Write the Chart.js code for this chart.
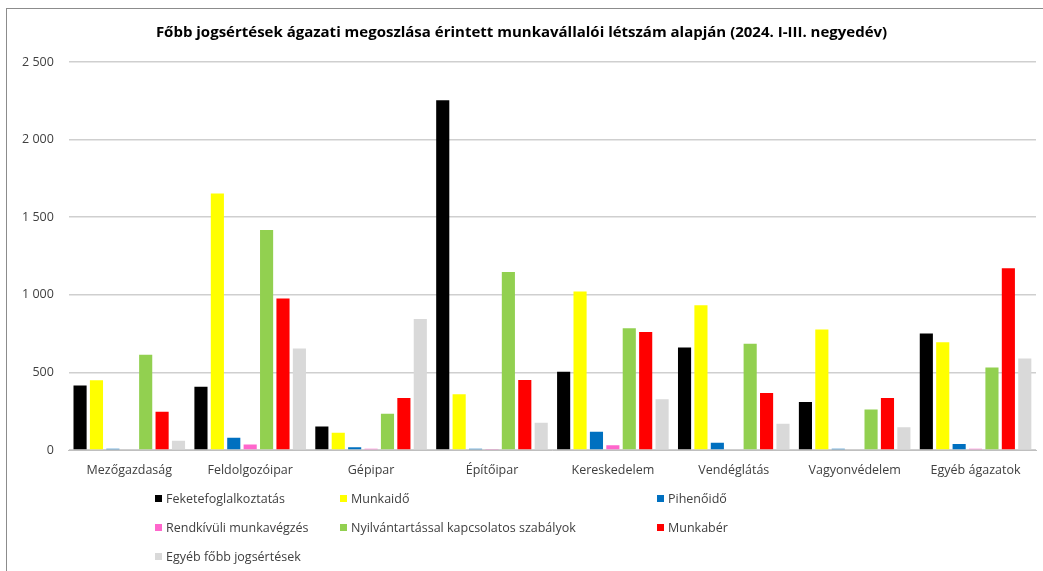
<!DOCTYPE html>
<html lang="hu">
<head>
<meta charset="utf-8">
<script src="https://cdn.jsdelivr.net/npm/chart.js@4"></script>
<style>
  html, body { margin: 0; padding: 0; background: #fff; }
  body { width: 1043px; height: 571px; overflow: hidden; position: relative; font-family: "Open Sans", "Noto Sans", sans-serif; }
  #frame { position: absolute; left: 6px; top: 8px; width: 1037px; height: 563px; border-top: 1px solid #8c8c8c; border-left: 1px solid #8c8c8c; }
  #wrap { position: absolute; left: 0; top: 0; width: 1043px; height: 571px; }
  #legend { position: absolute; left: 155px; top: 488px; display: grid; grid-template-columns: 185px 317px auto; row-gap: 9px; font-size: 12.5px; color: #404040; }
  #legend .item { display: flex; align-items: center; height: 20px; white-space: nowrap; }
  #legend .box { width: 7px; height: 7px; margin-right: 4px; }
</style>
</head>
<body>
<div id="frame"></div>
<div id="wrap"><canvas id="chart" width="1043" height="571"></canvas></div>
<div id="legend"></div>
<script>
const categories = ["Mezőgazdaság", "Feldolgozóipar", "Gépipar", "Építőipar", "Kereskedelem", "Vendéglátás", "Vagyonvédelem", "Egyéb ágazatok"];
const seriesNames = ["Feketefoglalkoztatás", "Munkaidő", "Pihenőidő", "Rendkívüli munkavégzés", "Nyilvántartással kapcsolatos szabályok", "Munkabér", "Egyéb főbb jogsértések"];
const seriesColors = ["#000000", "#FFFF00", "#0070C0", "#FF66CC", "#92D050", "#FF0000", "#D9D9D9"];

const feketefoglalkoztatas = [415, 408, 152, 2254, 504, 660, 310, 750];
const munkaido = [449, 1652, 111, 359, 1021, 932, 776, 694];
const pihenoido = [8, 79, 17, 8, 118, 47, 8, 38];
const rendkivuli = [5, 36, 8, 6, 30, 0, 0, 8];
const nyilvantartas = [613, 1417, 233, 1147, 784, 684, 261, 532];
const munkaber = [246, 976, 335, 451, 761, 368, 335, 1171];
const egyeb = [60, 654, 844, 175, 327, 169, 147, 590];

const yTicks = [0, 500, 1000, 1500, 2000, 2500];

const seriesData = [feketefoglalkoztatas, munkaido, pihenoido, rendkivuli, nyilvantartas, munkaber, egyeb];

const fmt = v => String(v).replace(/\B(?=(\d{3})+(?!\d))/g, " ");

const ctx = document.getElementById("chart").getContext("2d");
const chart = new Chart(ctx, {
  type: "bar",
  data: {
    labels: categories,
    datasets: seriesNames.map((name, i) => ({
      label: name,
      data: seriesData[i],
      backgroundColor: seriesColors[i],
      borderWidth: 0,
      categoryPercentage: 0.95,
      barPercentage: 0.8
    }))
  },
  options: {
    responsive: false,
    animation: false,
    layout: { padding: { left: 7, right: 7, top: 16, bottom: 88 } },
    plugins: {
      legend: { display: false },
      tooltip: { enabled: false },
      title: {
        display: true,
        text: "Főbb jogsértések ágazati megoszlása érintett munkavállalói létszám alapján (2024. I-III. negyedév)",
        color: "#000",
        font: { family: "'Open Sans', 'Noto Sans', sans-serif", size: 15, weight: "bold" },
        padding: { top: 8, bottom: 20 }
      }
    },
    scales: {
      x: {
        grid: { display: false },
        border: { color: "#bfbfbf", width: 1 },
        ticks: { color: "#404040", font: { family: "'Open Sans', 'Noto Sans', sans-serif", size: 12.5 }, padding: 5, maxRotation: 0 }
      },
      y: {
        min: 0,
        max: 2500,
        afterBuildTicks: axis => { axis.ticks = yTicks.map(v => ({ value: v })); },
        grid: { color: "#cfcfcf", lineWidth: 1.5, drawTicks: false },
        border: { display: false },
        ticks: { color: "#404040", font: { family: "'Open Sans', 'Noto Sans', sans-serif", size: 12.5 }, padding: 15, callback: v => fmt(v) }
      }
    }
  }
});

const legendEl = document.getElementById("legend");
chart.data.datasets.forEach(ds => {
  const item = document.createElement("div");
  item.className = "item";
  const box = document.createElement("span");
  box.className = "box";
  box.style.background = ds.backgroundColor;
  const txt = document.createElement("span");
  txt.textContent = ds.label;
  item.appendChild(box);
  item.appendChild(txt);
  legendEl.appendChild(item);
});
</script>
</body>
</html>
